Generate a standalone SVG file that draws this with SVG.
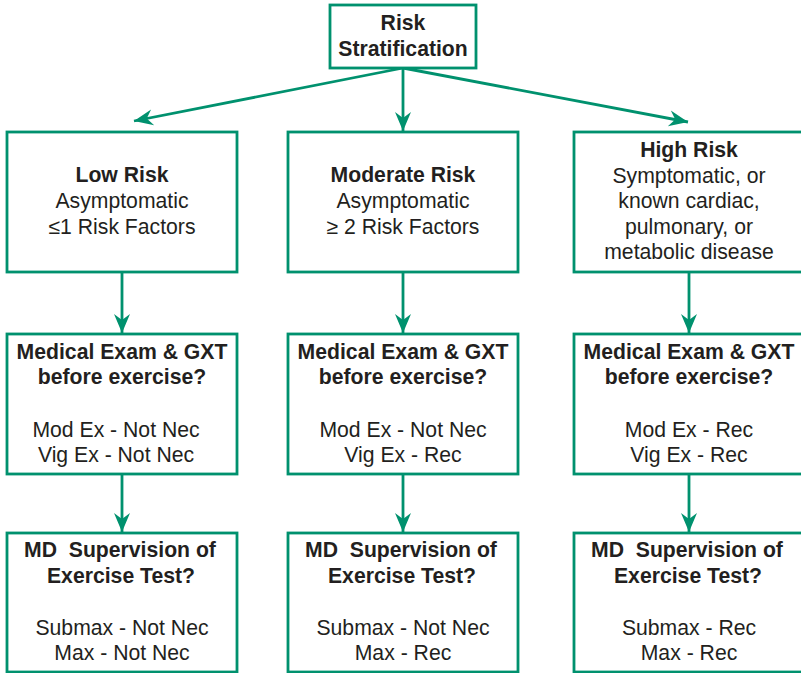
<svg xmlns="http://www.w3.org/2000/svg" width="801" height="673" viewBox="0 0 801 673">
<style>
.box{fill:#fff;stroke:#00916e;stroke-width:2.8}
.ln{fill:none;stroke:#00916e;stroke-width:2.8}
text{font-family:"Liberation Sans",Arial,sans-serif;font-size:21.2px;fill:#231f20;text-anchor:middle}
.b{font-weight:bold}
</style>
<defs>
<marker id="ah" markerUnits="userSpaceOnUse" markerWidth="22" markerHeight="20" viewBox="-20 -10 22 20" refX="0" refY="0" orient="auto">
<path d="M0,0 L-19,-8 L-13,0 L-19,8 Z" fill="#00916e"/>
</marker>
</defs>
<g id="connectors">
<line class="ln" x1="403" y1="68" x2="134" y2="121" marker-end="url(#ah)"/>
<line class="ln" x1="403" y1="68" x2="403" y2="131" marker-end="url(#ah)"/>
<line class="ln" x1="403" y1="68" x2="688" y2="122" marker-end="url(#ah)"/>
<line class="ln" x1="122" y1="272" x2="122" y2="333" marker-end="url(#ah)"/>
<line class="ln" x1="403" y1="272" x2="403" y2="333" marker-end="url(#ah)"/>
<line class="ln" x1="689" y1="272" x2="689" y2="333" marker-end="url(#ah)"/>
<line class="ln" x1="122" y1="474" x2="122" y2="532" marker-end="url(#ah)"/>
<line class="ln" x1="403" y1="474" x2="403" y2="532" marker-end="url(#ah)"/>
<line class="ln" x1="689" y1="474" x2="689" y2="532" marker-end="url(#ah)"/>
</g>
<g id="risk-stratification">
<rect class="box" x="330" y="5" width="146" height="63"/>
<text class="b" x="403" y="30">Risk</text>
<text class="b" x="403" y="56">Stratification</text>
</g>
<g id="low-risk">
<rect class="box" x="7" y="132" width="230" height="140"/>
<text class="b" x="122" y="182">Low Risk</text>
<text x="122" y="208">Asymptomatic</text>
<text x="122" y="234">≤1 Risk Factors</text>
</g>
<g id="moderate-risk">
<rect class="box" x="288" y="132" width="230" height="140"/>
<text class="b" x="403" y="182">Moderate Risk</text>
<text x="403" y="208">Asymptomatic</text>
<text x="403" y="234">≥ 2 Risk Factors</text>
</g>
<g id="high-risk">
<rect class="box" x="574" y="132" width="232" height="140"/>
<text class="b" x="689" y="157">High Risk</text>
<text x="689" y="183">Symptomatic, or</text>
<text x="689" y="208">known cardiac,</text>
<text x="689" y="234">pulmonary, or</text>
<text x="689" y="259">metabolic disease</text>
</g>
<g id="low-exam">
<rect class="box" x="7" y="334" width="230" height="140"/>
<text class="b" x="122" y="359">Medical Exam &amp; GXT</text>
<text class="b" x="122" y="384">before exercise?</text>
<text x="116" y="437">Mod Ex - Not Nec</text>
<text x="116" y="462">Vig Ex - Not Nec</text>
</g>
<g id="moderate-exam">
<rect class="box" x="288" y="334" width="230" height="140"/>
<text class="b" x="403" y="359">Medical Exam &amp; GXT</text>
<text class="b" x="403" y="384">before exercise?</text>
<text x="403" y="437">Mod Ex - Not Nec</text>
<text x="403" y="462">Vig Ex - Rec</text>
</g>
<g id="high-exam">
<rect class="box" x="574" y="334" width="232" height="140"/>
<text class="b" x="689" y="359">Medical Exam &amp; GXT</text>
<text class="b" x="689" y="384">before exercise?</text>
<text x="689" y="437">Mod Ex - Rec</text>
<text x="689" y="462">Vig Ex - Rec</text>
</g>
<g id="low-md">
<rect class="box" x="7" y="533" width="230" height="139"/>
<text class="b" x="120" y="557" xml:space="preserve">MD  Supervision of</text>
<text class="b" x="121" y="583">Exercise Test?</text>
<text x="122" y="635">Submax - Not Nec</text>
<text x="122" y="660">Max - Not Nec</text>
</g>
<g id="moderate-md">
<rect class="box" x="288" y="533" width="230" height="139"/>
<text class="b" x="401" y="557" xml:space="preserve">MD  Supervision of</text>
<text class="b" x="402" y="583">Exercise Test?</text>
<text x="403" y="635">Submax - Not Nec</text>
<text x="403" y="660">Max - Rec</text>
</g>
<g id="high-md">
<rect class="box" x="574" y="533" width="232" height="139"/>
<text class="b" x="687" y="557" xml:space="preserve">MD  Supervision of</text>
<text class="b" x="688" y="583">Exercise Test?</text>
<text x="689" y="635">Submax - Rec</text>
<text x="689" y="660">Max - Rec</text>
</g>
</svg>
